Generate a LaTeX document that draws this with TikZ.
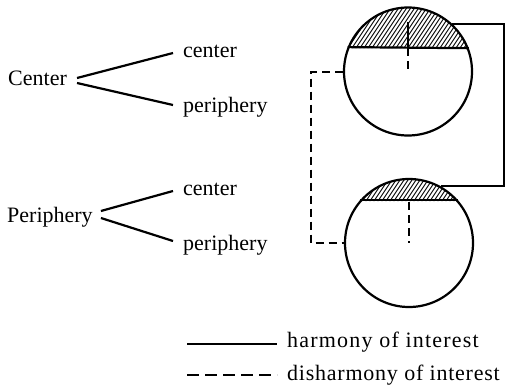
\documentclass[tikz,border=0pt]{standalone}
\usepackage{fontspec}
\setmainfont{Liberation Serif}
\begin{document}
\begin{tikzpicture}[x=1pt,y=-1pt,
  lbl/.style={font=\fontsize{22}{26}\selectfont, inner sep=0pt, anchor=base west},
  ring/.style={circle, draw, line width=2.2pt, minimum size=128pt, inner sep=0pt},
  link/.style={line width=2.2pt},
  dlink/.style={line width=2pt, dash pattern=on 8pt off 5pt},
  hatch/.style={line width=0.9pt}]
\useasboundingbox (0,0) rectangle (506,388);
% tree labels
\node[lbl] (C) at (8,85) {Center};
\node[lbl] (Cc) at (183,57) {center};
\node[lbl] (Cp) at (183,112) {periphery};
\node[lbl] (P) at (7,222) {Periphery};
\node[lbl] (Pc) at (183,195) {center};
\node[lbl] (Pp) at (183,250) {periphery};
\draw[link] ([shift={(10,-7)}]C.base east) -- ([shift={(-10,-4)}]Cc.base west);
\draw[link] ([shift={(10,-2)}]C.base east) -- ([shift={(-10,-7)}]Cp.base west);
\draw[link] ([shift={(8,-11)}]P.base east) -- ([shift={(-10,-4)}]Pc.base west);
\draw[link] ([shift={(8,-4)}]P.base east) -- ([shift={(-10,-9)}]Pp.base west);
% circles
\node[ring] (T) at (408,71.5) {};
\node[ring] (B) at (409,243) {};
% hatching top
\begin{scope}
\clip (T.center) ++(-21.5:64) arc[start angle=-21.5,end angle=-158.5,radius=64] -- cycle;
\foreach \i in {-60,-56,...,200} \draw[hatch] (300+\i,60) -- (340+\i,0);
\end{scope}
\draw[line width=2.2pt] (T.158.5) -- (T.21.5);
\begin{scope}
\clip (B.center) ++(-41:64) arc[start angle=-41,end angle=-139,radius=64] -- cycle;
\foreach \i in {-60,-56,...,200} \draw[hatch] (300+\i,210) -- (340+\i,150);
\end{scope}
\draw[line width=2.2pt] (B.139) -- (B.41);
% center lines
\coordinate (Tc) at (T.center);
\coordinate (Tch) at (408,48);
\coordinate (Ttop) at (408,22);
\draw[line width=2pt] (Tch) -- (Ttop);
\draw[dlink] (Tch) -- (Tc);
\coordinate (Bc) at (B.center);
\coordinate (Bch) at (409,202);
\draw[dlink] (Bch) -- (Bc);
% connectors
\coordinate (R) at (504,0);
\coordinate (L) at (311,0);
\draw[link, line join=miter] (T.47) -- (T.47 -| R) -- (B.61 -| R) -- (B.61);
\draw[dlink, line join=miter] (T.west) -- (T.west -| L) -- (B.west -| L) -- (B.west);
% legend
\coordinate (l1a) at (187,344);
\coordinate (l1b) at (277,344);
\coordinate (l2a) at (187,375);
\coordinate (l2b) at (277,375);
\draw[link] (l1a) -- (l1b);
\draw[line width=2pt, dash pattern=on 12pt off 6pt] (l2a) -- (l2b);
\node[lbl] (h) at (287,347) {\addfontfeature{LetterSpace=5.5}harmony of interest};
\node[lbl] (d) at (287,380) {\addfontfeature{LetterSpace=3.5}disharmony of interest};
\end{tikzpicture}
\end{document}
